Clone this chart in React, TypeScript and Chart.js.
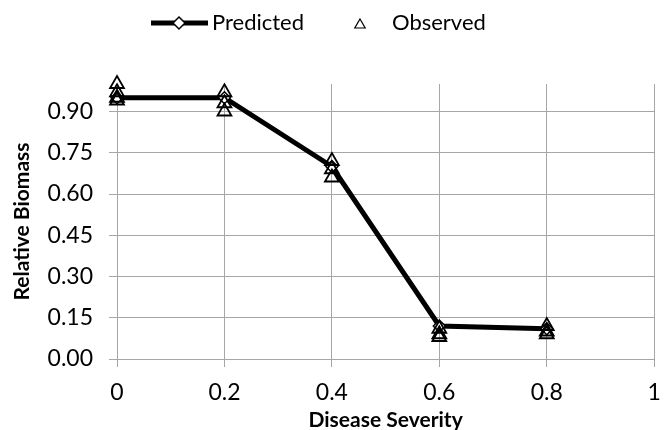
import React, { useEffect, useRef } from "react";
import { Chart, registerables } from "chart.js";
import { drawPoint } from "chart.js/helpers";

Chart.register(...registerables);

const severity = [0, 0.2, 0.4, 0.6, 0.8];
const predicted = [0.95, 0.95, 0.7, 0.12, 0.11];

const observedSeverity = [0, 0, 0, 0, 0.2, 0.2, 0.2, 0.4, 0.4, 0.4, 0.6, 0.6, 0.6, 0.8, 0.8, 0.8];
const observedBiomass = [1.0, 0.97, 0.95, 0.94, 0.97, 0.93, 0.9, 0.72, 0.69, 0.66, 0.11, 0.09, 0.08, 0.12, 0.1, 0.09];

const xTicks = [0, 0.2, 0.4, 0.6, 0.8, 1];
const yTicks = [0, 0.15, 0.3, 0.45, 0.6, 0.75, 0.9];

const seriesNames = ["Predicted", "Observed"];
const xTitle = "Disease Severity";
const yTitle = "Relative Biomass";

const FONT = "Lato";
const GRID = "#a6a6a6";

const legendPlugin = {
  id: "customLegend",
  afterDraw(chart: any) {
    const ctx = chart.ctx;
    ctx.save();
    ctx.strokeStyle = "#000";
    ctx.lineWidth = 5;
    ctx.beginPath();
    ctx.moveTo(151, 23);
    ctx.lineTo(208, 23);
    ctx.stroke();
    ctx.fillStyle = "#fff";
    ctx.strokeStyle = "#000";
    ctx.lineWidth = 1.5;
    drawPoint(ctx, { pointStyle: "rectRot", radius: 6, borderWidth: 1.5, rotation: 0 } as any, 179, 23);
    ctx.fillStyle = "#000";
    ctx.font = `22px ${FONT}`;
    ctx.textBaseline = "middle";
    ctx.textAlign = "left";
    ctx.fillText(seriesNames[0], 212, 23);
    ctx.strokeStyle = "#000";
    ctx.lineWidth = 1.2;
    ctx.fillStyle = "rgba(0,0,0,0)";
    drawPoint(ctx, { pointStyle: "triangle", radius: 6, borderWidth: 1.2, rotation: 0 } as any, 360, 25);
    ctx.fillStyle = "#000";
    ctx.fillText(seriesNames[1], 392, 23);
    ctx.restore();
  },
};

export default function App() {
  const ref = useRef<HTMLCanvasElement | null>(null);

  useEffect(() => {
    if (!ref.current) return;
    const chart = new Chart(ref.current, {
      type: "scatter",
      data: {
        datasets: [
          {
            label: seriesNames[0],
            data: severity.map((x, i) => ({ x, y: predicted[i] })),
            showLine: true,
            borderColor: "#000",
            borderWidth: 5,
            pointStyle: "rectRot",
            pointRadius: 6,
            pointBorderWidth: 1.5,
            pointBackgroundColor: "#fff",
            pointBorderColor: "#000",
            clip: false,
            order: 1,
          },
          {
            label: seriesNames[1],
            data: observedSeverity.map((x, i) => ({ x, y: observedBiomass[i] })),
            showLine: false,
            pointStyle: "triangle",
            pointRadius: 8,
            pointBorderWidth: 1.8,
            pointBackgroundColor: "rgba(0,0,0,0)",
            pointBorderColor: "#000",
            clip: false,
            order: 0,
          },
        ],
      },
      options: {
        responsive: false,
        animation: false,
        layout: { padding: { left: 8, right: 9, top: 84, bottom: 0 } },
        plugins: {
          legend: { display: false },
          tooltip: { enabled: false },
        },
        scales: {
          x: {
            type: "linear",
            min: 0,
            max: 1,
            afterBuildTicks: (s: any) => {
              s.ticks = xTicks.map((v) => ({ value: v }));
            },
            afterFit: (s: any) => {
              s.height = 71;
              s.paddingLeft = 0;
              s.paddingRight = 0;
            },
            ticks: {
              color: "#000",
              font: { family: FONT, size: 23 },
              padding: 12,
              callback: (v: any) => String(Number(Number(v).toFixed(2))),
            },
            grid: { color: GRID, lineWidth: 1, tickLength: 8, drawTicks: true },
            border: { color: GRID, width: 1 },
            title: {
              display: true,
              text: xTitle,
              color: "#000",
              font: { family: FONT, size: 21, weight: "bold" },
              padding: { top: 0, bottom: -3 },
            },
          },
          y: {
            type: "linear",
            min: 0,
            max: 1,
            afterBuildTicks: (s: any) => {
              s.ticks = yTicks.map((v) => ({ value: v }));
            },
            afterFit: (s: any) => {
              s.width = 109;
              s.paddingTop = 0;
              s.paddingBottom = 0;
            },
            ticks: {
              color: "#000",
              font: { family: FONT, size: 23 },
              padding: 16,
              callback: (v: any) => Number(v).toFixed(2),
            },
            grid: { color: GRID, lineWidth: 1, tickLength: 8, drawTicks: true },
            border: { color: GRID, width: 1 },
            title: {
              display: true,
              text: yTitle,
              color: "#000",
              font: { family: FONT, size: 21, weight: "bold" },
              padding: { top: 2, bottom: 0 },
            },
          },
        },
      },
      plugins: [legendPlugin],
    });
    return () => chart.destroy();
  }, []);

  return (
    <div style={{ position: "absolute", left: 0, top: 0, width: 664, height: 430, background: "#fff" }}>
      <canvas ref={ref} width={664} height={430} />
    </div>
  );
}
